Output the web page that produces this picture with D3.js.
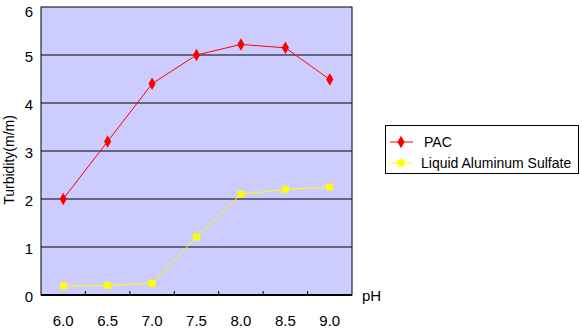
<!DOCTYPE html>
<html><head><meta charset="utf-8">
<script src="https://cdn.jsdelivr.net/npm/d3@7"></script>
<style>body{margin:0;background:#fff}svg{display:block}text{font-family:Arial,"Liberation Sans",sans-serif}</style>
</head><body><svg id="c" width="582" height="330"></svg>
<script>
const categories = ["6.0","6.5","7.0","7.5","8.0","8.5","9.0"];
const pac = [2.0, 3.2, 4.4, 5.0, 5.22, 5.15, 4.49];
const alum = [0.19, 0.2, 0.24, 1.21, 2.1, 2.2, 2.25];
const yTicks = [0,1,2,3,4,5,6];
const seriesNames = ["PAC","Liquid Aluminum Sulfate"];

const svg = d3.select("#c");
const L=41,R=352,T=7,B=295;
const x = d3.scaleBand().domain(categories).range([L,R]);
const y = d3.scaleLinear().domain([0,6]).range([B,T]);

svg.append("rect").attr("x",L).attr("y",T).attr("width",R-L).attr("height",B-T).attr("fill","#CCCCFF");
svg.append("g").selectAll("line").data(yTicks.filter(d=>d>0&&d<6)).join("line")
  .attr("x1",L).attr("x2",R).attr("y1",d=>y(d)).attr("y2",d=>y(d)).attr("stroke","#000").attr("stroke-width",1);
svg.append("rect").attr("x",L).attr("y",T).attr("width",R-L).attr("height",B-T).attr("fill","none").attr("stroke","#000").attr("stroke-width",1);
svg.append("line").attr("x1",L).attr("x2",R).attr("y1",B).attr("y2",B).attr("stroke","#000").attr("stroke-width",2);
const bounds = categories.slice(1).map(c=>x(c));
svg.append("g").selectAll("line").data(bounds).join("line")
  .attr("x1",d=>d).attr("x2",d=>d).attr("y1",B).attr("y2",B-4).attr("stroke","#000");

svg.append("g").selectAll("text").data(yTicks).join("text")
  .attr("x",33).attr("y",d=>Math.max(y(d)+7,17)).attr("text-anchor","end").attr("font-size",15).text(d=>d);
svg.append("g").selectAll("text").data(categories).join("text")
  .attr("x",d=>x(d)+x.bandwidth()/2).attr("y",326).attr("text-anchor","middle").attr("font-size",15).text(d=>d);
svg.append("text").attr("x",362).attr("y",301).attr("font-size",15).text("pH");
svg.append("text").attr("transform","translate(14,160) rotate(-90)").attr("text-anchor","middle").attr("font-size",14).text("Turbidity(m/m)");

const cx = (d,i)=>x(categories[i])+x.bandwidth()/2;
const line = d3.line().x(cx).y(d=>y(d));
svg.append("path").datum(pac).attr("d",line).attr("fill","none").attr("stroke","#FF0000").attr("stroke-width",1);
svg.append("path").datum(alum).attr("d",line).attr("fill","none").attr("stroke","#FFFF00").attr("stroke-width",1);
const diamond = d3.symbol().type(d3.symbolDiamond).size(45);
svg.append("g").selectAll("path").data(pac).join("path")
  .attr("transform",(d,i)=>`translate(${cx(d,i)},${y(d)})`).attr("d",diamond).attr("fill","#FF0000");
svg.append("g").selectAll("rect").data(alum).join("rect")
  .attr("x",(d,i)=>cx(d,i)-3.5).attr("y",d=>y(d)-3.5).attr("width",7).attr("height",7).attr("fill","#FFFF00");

const lg = svg.append("g");
lg.append("rect").attr("x",385.5).attr("y",125.5).attr("width",193).attr("height",48).attr("fill","#fff").attr("stroke","#000");
const rowsY=[142,163];
const colors=["#FF0000","#FFFF00"];
seriesNames.forEach((n,i)=>{
  lg.append("line").attr("x1",390).attr("x2",413).attr("y1",rowsY[i]).attr("y2",rowsY[i]).attr("stroke",colors[i]);
  if(i===0) lg.append("path").attr("transform",`translate(401,${rowsY[i]})`).attr("d",diamond).attr("fill",colors[i]);
  else lg.append("rect").attr("x",397.5).attr("y",rowsY[i]-3.5).attr("width",7).attr("height",7).attr("fill",colors[i]);
  lg.append("text").attr("x",i===0?424:421).attr("y",rowsY[i]+5).attr("font-size",14).text(n);
});
</script></body></html>
